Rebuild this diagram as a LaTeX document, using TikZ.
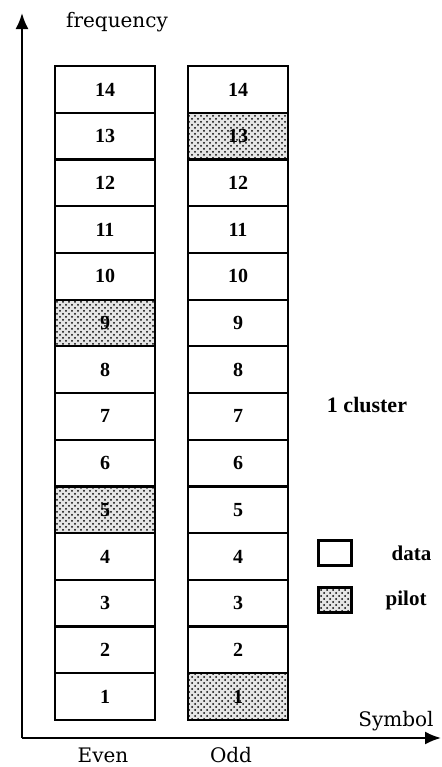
\documentclass[tikz,border=0pt]{standalone}
\usepackage{fontspec}
\setmainfont{Liberation Serif}
\newfontfamily\wideserif{DejaVu Serif}
\usetikzlibrary{arrows.meta,patterns,positioning}
\tikzset{
  cell/.style={draw,line width=1.1pt,minimum width=50pt,minimum height=23.35pt,inner sep=0pt,
    font=\bfseries\fontsize{10}{11}\selectfont},
  pilotcell/.style={cell,preaction={fill=gray!20},pattern=crosshatch dots},
  lbl/.style={font=\wideserif\fontsize{10}{11}\selectfont},
  leglbl/.style={font=\bfseries\fontsize{10.5}{12}\selectfont},
  legbox/.style={draw,line width=1.1pt,minimum width=16.5pt,minimum height=12.5pt,inner sep=0pt}
}
\begin{document}
\begin{tikzpicture}[x=0.5pt,y=-0.5pt]
  \useasboundingbox (0,0) rectangle (441,767);
  % axes
  \coordinate (origin) at (22,738);
  \coordinate (ytip) at (22,13);
  \coordinate (xtip) at (441,738);
  \draw[-{Latex[length=8pt,width=6.5pt]},line width=1pt] (origin) -- (ytip);
  \draw[-{Latex[length=8pt,width=6.5pt]},line width=1pt] (origin) -- (xtip);
  \node[lbl] (freq) at (117,22) {frequency};
  \node[lbl] (symbol) at (396,721) {Symbol};
  % subcarrier cells
  \foreach \i in {1,...,14} {
    \pgfmathsetmacro{\yc}{720-(\i-0.5)*46.71}
    \ifnum\i=5 \def\evenstyle{pilotcell}\else\ifnum\i=9 \def\evenstyle{pilotcell}\else\def\evenstyle{cell}\fi\fi
    \ifnum\i=1 \def\oddstyle{pilotcell}\else\ifnum\i=13 \def\oddstyle{pilotcell}\else\def\oddstyle{cell}\fi\fi
    \node[\evenstyle] (even\i) at (105,\yc) {\i};
    \node[\oddstyle] (odd\i) at (238,\yc) {\i};
  }
  \node[lbl] (evenlbl) at (103,755) {Even};
  \node[lbl] (oddlbl) at (231,755) {Odd};
  \node[font=\bfseries\fontsize{11}{12}\selectfont] (cluster) at (367,405) {1 cluster};
  % legend
  \node[legbox] (legdata) at (335,553) {};
  \node[legbox,preaction={fill=gray!20},pattern=crosshatch dots] (legpilot) at (335,600) {};
  \node[leglbl,right=16pt of legdata] (datalbl) {data};
  \node[leglbl,right=13pt of legpilot] (pilotlbl) {pilot};
\end{tikzpicture}
\end{document}
